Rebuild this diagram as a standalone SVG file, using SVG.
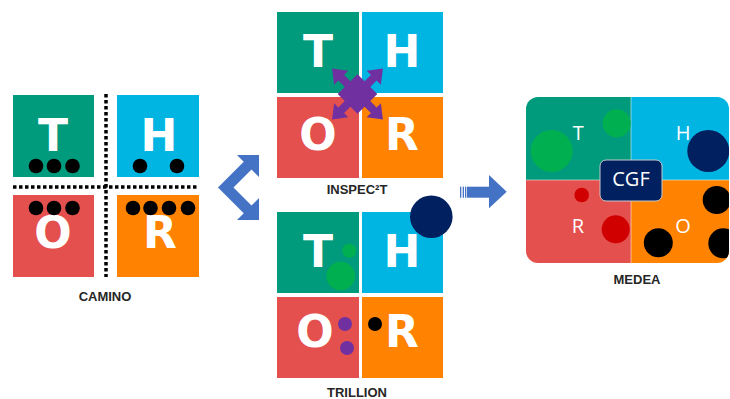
<svg xmlns="http://www.w3.org/2000/svg" width="730" height="399" viewBox="0 0 730 399">
  <style>
    .t { fill: #009A7C; }
    .h { fill: #00B5E2; }
    .o { fill: #E4504E; }
    .r { fill: #FF8200; }
    .big { font-family: "DejaVu Sans", Verdana, sans-serif; font-weight: bold; font-size: 44px; fill: #fff; text-anchor: middle; }
    .cap { font-family: "Liberation Sans", Arial, sans-serif; font-weight: bold; font-size: 13px; fill: #262626; text-anchor: middle; }
    .thin { font-family: "Open Sans", "Noto Sans", sans-serif; font-size: 20px; fill: #fff; text-anchor: middle; }
    .dot { fill: #000; }
    .navy { fill: #002060; }
    .green { fill: #00B050; }
    .purple { fill: #7030A0; }
    .blue { fill: #4472C4; }
    .dash { stroke: #000; stroke-width: 3.5; stroke-dasharray: 3.5 2.5; fill: none; }
  </style>
  <defs>
    <clipPath id="medeaClip">
      <rect x="526" y="97" width="203" height="166" rx="12"/>
    </clipPath>
  </defs>

  <!-- CAMINO: four quadrants split by dotted lines -->
  <g id="camino">
    <rect class="t" x="13" y="95" width="81" height="82"/>
    <rect class="h" x="117" y="95" width="82" height="82"/>
    <rect class="o" x="13" y="195" width="81" height="82"/>
    <rect class="r" x="117" y="195" width="82" height="82"/>
    <line class="dash" x1="106" y1="94" x2="106" y2="277"/>
    <line class="dash" x1="13" y1="187" x2="199" y2="187"/>
    <text class="big" x="53" y="151">T</text>
    <text class="big" x="159" y="151">H</text>
    <text class="big" x="53" y="248">O</text>
    <text class="big" x="160" y="248">R</text>
    <circle class="dot" cx="36" cy="166" r="7.3"/>
    <circle class="dot" cx="54" cy="166" r="7.3"/>
    <circle class="dot" cx="72.5" cy="166" r="7.3"/>
    <circle class="dot" cx="140" cy="166" r="7.3"/>
    <circle class="dot" cx="177" cy="166" r="7.3"/>
    <circle class="dot" cx="36" cy="208" r="7.3"/>
    <circle class="dot" cx="54" cy="208" r="7.3"/>
    <circle class="dot" cx="72.5" cy="208" r="7.3"/>
    <circle class="dot" cx="133" cy="208" r="7.3"/>
    <circle class="dot" cx="150.5" cy="208" r="7.3"/>
    <circle class="dot" cx="169" cy="208" r="7.3"/>
    <circle class="dot" cx="188" cy="208" r="7.3"/>
    <text class="cap" x="105" y="301">CAMINO</text>
  </g>

  <!-- INSPEC2T: quadrants with a four-way arrow at the centre -->
  <g id="inspect">
    <rect class="t" x="277" y="12" width="82" height="81"/>
    <rect class="h" x="362" y="12" width="81" height="81"/>
    <rect class="o" x="277" y="97" width="82" height="81"/>
    <rect class="r" x="362" y="97" width="81" height="81"/>
    <text class="big" x="318" y="67">T</text>
    <text class="big" x="402" y="67">H</text>
    <text class="big" x="318" y="150">O</text>
    <text class="big" x="402" y="150">R</text>
    <path class="purple" transform="translate(357.5,94) rotate(45)"
          d="M14,-4 L23,-4 L23,-10 L36,0 L23,10 L23,4 L14,4 L14,14 L4,14 L4,23 L10,23 L0,36 L-10,23 L-4,23 L-4,14 L-14,14 L-14,4 L-23,4 L-23,10 L-36,0 L-23,-10 L-23,-4 L-14,-4 L-14,-14 L-4,-14 L-4,-23 L-10,-23 L0,-36 L10,-23 L4,-23 L4,-14 L14,-14 Z"/>
    <text class="cap" x="357" y="194">INSPEC²T</text>
  </g>

  <!-- TRILLION: quadrants with coloured markers -->
  <g id="trillion">
    <rect class="t" x="277" y="212" width="82" height="81"/>
    <rect class="h" x="362" y="212" width="81" height="81"/>
    <rect class="o" x="277" y="297" width="82" height="81"/>
    <rect class="r" x="362" y="297" width="81" height="81"/>
    <text class="big" x="318" y="267">T</text>
    <text class="big" x="402" y="267">H</text>
    <text class="big" x="315" y="347">O</text>
    <text class="big" x="402" y="347">R</text>
    <circle class="navy" cx="431.3" cy="216.7" r="21.3"/>
    <circle class="green" cx="349.3" cy="250.7" r="7"/>
    <circle class="green" cx="340.7" cy="276" r="14.3"/>
    <circle class="purple" cx="345" cy="324" r="7"/>
    <circle class="purple" cx="347" cy="348" r="7"/>
    <circle class="dot" cx="375" cy="324" r="7"/>
    <text class="cap" x="357" y="397">TRILLION</text>
  </g>

  <!-- MEDEA: rounded panel with CGF block in the middle -->
  <g id="medea">
    <g clip-path="url(#medeaClip)">
      <rect class="t" x="526" y="97" width="105" height="83"/>
      <rect class="h" x="631" y="97" width="99" height="83"/>
      <rect class="o" x="526" y="180" width="105" height="83"/>
      <rect class="r" x="631" y="180" width="99" height="83"/>
      <line x1="631" y1="97" x2="631" y2="263" stroke="#fff" stroke-opacity="0.5" stroke-width="1"/>
      <line x1="526" y1="180" x2="730" y2="180" stroke="#fff" stroke-opacity="0.5" stroke-width="1"/>
      <circle class="green" cx="551.7" cy="151" r="21"/>
      <circle class="green" cx="616.7" cy="123.3" r="14"/>
      <circle class="navy" cx="708.3" cy="151" r="21"/>
      <circle fill="#D00000" cx="581.7" cy="195" r="7.3"/>
      <circle fill="#D00000" cx="615.7" cy="229.3" r="14"/>
      <circle class="dot" cx="658.3" cy="242.7" r="14.5"/>
      <circle class="dot" cx="716.7" cy="200" r="14"/>
      <circle class="dot" cx="723.3" cy="243.3" r="15"/>
      <text class="thin" x="578.3" y="140">T</text>
      <text class="thin" x="683" y="140">H</text>
      <text class="thin" x="578" y="233">R</text>
      <text class="thin" x="683" y="233">O</text>
    </g>
    <rect class="navy" x="600" y="160" width="62" height="41" rx="6" stroke="#C8C8C8" stroke-width="1"/>
    <text class="thin" x="631" y="186">CGF</text>
    <text class="cap" x="637" y="284">MEDEA</text>
  </g>

  <!-- connectors -->
  <g id="connectors">
    <!-- bent double arrow from CAMINO to INSPEC2T and TRILLION -->
    <polygon class="blue" points="218,187.5 243.75,161.75 237,155 259,155 259,177 251.5,169.5 233.5,187.5 251.5,205.5 259,198 259,220 237,220 243.75,213.25"/>
    <!-- striped block arrow towards MEDEA -->
    <rect class="blue" x="460" y="186.7" width="1.3" height="11"/>
    <rect class="blue" x="462.7" y="186.7" width="1.3" height="11"/>
    <rect class="blue" x="465" y="186.7" width="1.3" height="11"/>
    <rect class="blue" x="467" y="186.7" width="22.5" height="11"/>
    <polygon class="blue" points="489,175 506.7,191.7 489,208.3"/>
  </g>
</svg>
